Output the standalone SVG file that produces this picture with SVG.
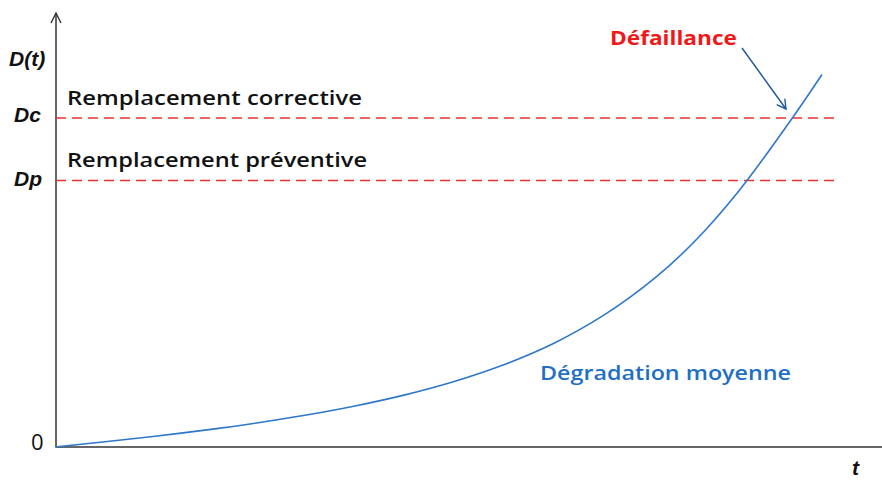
<svg xmlns="http://www.w3.org/2000/svg" width="882" height="480" viewBox="0 0 882 480">
<defs>
<style>
.lbl{font-family:"Open Sans","Liberation Sans",sans-serif;font-size:20px;font-weight:600;fill:#111;}
.ax{font-family:"Liberation Sans",Arial,sans-serif;font-size:21px;font-weight:bold;font-style:italic;fill:#111;}
.dash{stroke:#F03030;stroke-width:1.5;stroke-dasharray:10,6;fill:none;}
.axis{stroke:#333;stroke-width:1.5;fill:none;}
</style>
<marker id="open" markerWidth="12" markerHeight="12" refX="10" refY="6" orient="auto" markerUnits="userSpaceOnUse">
<path d="M1,1 L10,6 L1,11" fill="none" stroke="#1F5A9A" stroke-width="1.4"/>
</marker>
<marker id="axarr" markerWidth="14" markerHeight="14" refX="12" refY="7" orient="auto" markerUnits="userSpaceOnUse">
<path d="M2,2 L12,7 L2,12" fill="none" stroke="#333" stroke-width="1.4"/>
</marker>
</defs>
<rect width="882" height="480" fill="#fff"/>
<g id="axes">
<line class="axis" x1="56" y1="447" x2="56" y2="13" marker-end="url(#axarr)"/>
<line class="axis" x1="56" y1="447" x2="882" y2="447"/>
<text class="ax" x="9" y="66">D(t)</text>
<text class="ax" x="14" y="122">Dc</text>
<text class="ax" x="14" y="186">Dp</text>
<text x="31" y="450" style="font-family:'Open Sans','Liberation Sans',sans-serif;font-size:22px;fill:#111">0</text>
<text class="ax" x="852" y="475">t</text>
</g>
<g id="thresholds">
<line class="dash" x1="56" y1="118" x2="836" y2="118"/>
<line class="dash" x1="56" y1="180.5" x2="836" y2="180.5"/>
<text class="lbl" x="67" y="105" textLength="295" lengthAdjust="spacingAndGlyphs">Remplacement corrective</text>
<text class="lbl" x="67" y="167" textLength="300" lengthAdjust="spacingAndGlyphs">Remplacement préventive</text>
</g>
<g id="curve">
<path d="M55,447 C71.7,445.3 88.3,443.6 105,441.8 C121.7,440 138.3,438.15 155,436.2 C171.7,434.25 188.3,432.27 205,430.1 C221.7,427.93 238.3,425.67 255,423.2 C271.7,420.73 288.3,418.17 305,415.3 C321.7,412.43 338.3,409.4 355,406 C371.7,402.6 388.3,399.02 405,394.9 C421.7,390.78 438.3,386.4 455,381.3 C471.7,376.2 488.3,370.73 505,364.3 C521.7,357.87 538.3,350.9 555,342.7 C571.7,334.53 588.3,325.1 605,314.45 C621.7,303.78 638.3,291.62 655,277.95 C671.7,264.28 688.3,248.45 705,230.45 C719,215.33 733,198.7 747,180.5 C762,161 777,139.8 792,118.5 C802,104.3 812,89.5 822,74.5" fill="none" stroke="#2E78C8" stroke-width="1.6"/>
<text x="540" y="380" textLength="251" lengthAdjust="spacingAndGlyphs" style="font-family:'Open Sans','Liberation Sans',sans-serif;font-size:20px;font-weight:600;fill:#1F6FC5">Dégradation moyenne</text>
</g>
<g id="failure">
<line x1="742" y1="48" x2="786" y2="109" stroke="#1F5A9A" stroke-width="1.5" marker-end="url(#open)"/>
<text x="610" y="45" textLength="127" lengthAdjust="spacingAndGlyphs" style="font-family:'Open Sans','Liberation Sans',sans-serif;font-size:20px;font-weight:bold;fill:#F01818">Défaillance</text>
</g>
</svg>
